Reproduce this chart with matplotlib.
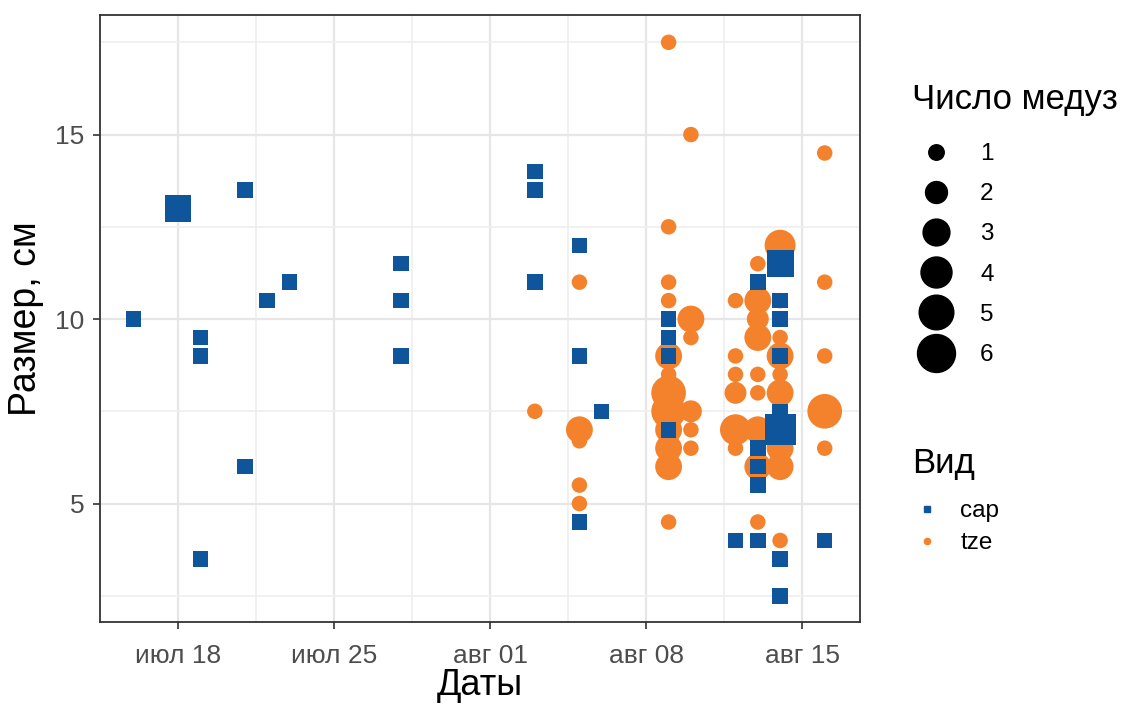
import matplotlib
matplotlib.use("Agg")
import matplotlib.pyplot as plt
from matplotlib.lines import Line2D
import numpy as np
import pandas as pd

plt.rcParams['font.family'] = ['Liberation Sans', 'DejaVu Sans']

# --- данные: cap ---
cap_date = ["2018-07-16", "2018-07-18", "2018-07-19", "2018-07-19", "2018-07-19",
            "2018-07-21", "2018-07-21", "2018-07-22", "2018-07-23",
            "2018-07-28", "2018-07-28", "2018-07-28",
            "2018-08-03", "2018-08-03", "2018-08-03",
            "2018-08-05", "2018-08-05", "2018-08-05", "2018-08-06",
            "2018-08-09", "2018-08-09", "2018-08-09", "2018-08-09",
            "2018-08-12",
            "2018-08-13", "2018-08-13", "2018-08-13", "2018-08-13", "2018-08-13",
            "2018-08-14", "2018-08-14", "2018-08-14", "2018-08-14", "2018-08-14",
            "2018-08-14", "2018-08-14", "2018-08-14",
            "2018-08-16"]
cap_len = [10, 13, 9.5, 9, 3.5,
           13.5, 6, 10.5, 11,
           11.5, 10.5, 9,
           14, 13.5, 11,
           12, 9, 4.5, 7.5,
           10, 9.5, 9, 7,
           4,
           11, 6.5, 6, 5.5, 4,
           11.5, 10.5, 10, 9, 7.5, 7, 3.5, 2.5,
           4]
cap_n = [1, 3, 1, 1, 1,
         1, 1, 1, 1,
         1, 1, 1,
         1, 1, 1,
         1, 1, 1, 1,
         1, 1, 1, 1,
         1,
         1, 1, 1, 1, 1,
         3, 1, 1, 1, 1, 4, 1, 1,
         1]

# --- данные: tze ---
tze_date = ["2018-08-03",
            "2018-08-05", "2018-08-05", "2018-08-05", "2018-08-05", "2018-08-05",
            "2018-08-09", "2018-08-09", "2018-08-09", "2018-08-09", "2018-08-09", "2018-08-09",
            "2018-08-09", "2018-08-09", "2018-08-09", "2018-08-09", "2018-08-09", "2018-08-09",
            "2018-08-10", "2018-08-10", "2018-08-10", "2018-08-10", "2018-08-10", "2018-08-10",
            "2018-08-12", "2018-08-12", "2018-08-12", "2018-08-12", "2018-08-12", "2018-08-12",
            "2018-08-13", "2018-08-13", "2018-08-13", "2018-08-13", "2018-08-13", "2018-08-13",
            "2018-08-13", "2018-08-13", "2018-08-13", "2018-08-13", "2018-08-13",
            "2018-08-14", "2018-08-14", "2018-08-14", "2018-08-14", "2018-08-14",
            "2018-08-14", "2018-08-14", "2018-08-14", "2018-08-14", "2018-08-14",
            "2018-08-16", "2018-08-16", "2018-08-16", "2018-08-16", "2018-08-16"]
tze_len = [7.5,
           11, 7, 6.7, 5.5, 5,
           17.5, 12.5, 11, 10.5, 9, 8.5,
           8, 7.5, 7, 6.5, 6, 4.5,
           15, 10, 9.5, 7.5, 7, 6.5,
           10.5, 9, 8.5, 8, 7, 6.5,
           11.5, 10.5, 10, 9.5, 8.5, 8,
           7, 6.5, 6, 5.5, 4.5,
           12, 10.5, 9.5, 9, 8.5,
           8, 7, 6.5, 6, 4,
           14.5, 11, 9, 7.5, 6.5]
tze_n = [1,
         1, 3, 1, 1, 1,
         1, 1, 1, 1, 3, 1,
         5, 5, 3, 3, 3, 1,
         1, 3, 1, 2, 1, 1,
         1, 1, 1, 2, 4, 1,
         1, 3, 2, 3, 1, 1,
         3, 1, 3, 1, 1,
         4, 1, 1, 3, 1,
         3, 1, 3, 3, 1,
         1, 1, 1, 5, 1]

legend_n = [1, 2, 3, 4, 5, 6]
species = ["cap", "tze"]
x_ticks = ["2018-07-18", "2018-07-25", "2018-08-01", "2018-08-08", "2018-08-15"]
x_ticklabels = ["июл 18", "июл 25", "авг 01", "авг 08", "авг 15"]

col_cap = "#0E559C"
col_tze = "#F4812C"


def diam(n):
    # диаметр точки в points, площадь ~ n
    return 15.5 * np.sqrt(np.asarray(n, dtype=float)) * 0.72


fig = plt.figure(figsize=(11.24, 7.06), dpi=100)
ax = fig.add_axes([100 / 1124, 1 - 622 / 706, 760 / 1124, 607 / 706])

ax.scatter(pd.to_datetime(tze_date), tze_len, s=diam(tze_n) ** 2, marker="o",
           color=col_tze, linewidths=0, zorder=3)
ax.scatter(pd.to_datetime(cap_date), cap_len, s=diam(cap_n) ** 2, marker="s",
           color=col_cap, linewidths=0, zorder=4)

ax.set_xlim(pd.Timestamp("2018-07-14 12:00"), pd.Timestamp("2018-08-17 14:00"))
ax.set_ylim(1.79, 18.24)

ticks = pd.to_datetime(x_ticks)
ax.set_xticks(ticks)
ax.set_xticklabels(x_ticklabels)
ax.set_xticks(ticks[:-1] + pd.Timedelta(days=3.5), minor=True)
ax.set_yticks([5, 10, 15])
ax.set_yticks([2.5, 7.5, 12.5, 17.5], minor=True)

ax.grid(which="major", color="#E6E6E6", lw=1.6, zorder=0)
ax.grid(which="minor", color="#EEEEEE", lw=1.1, zorder=0)
ax.set_axisbelow(True)
ax.tick_params(which="major", length=5, width=1.2, color="#333333",
               labelsize=19, labelcolor="#4D4D4D")
ax.tick_params(axis="x", which="major", pad=11)
ax.tick_params(axis="y", which="major", pad=6)
ax.tick_params(which="minor", length=0)
for sp in ax.spines.values():
    sp.set_color("#333333")
    sp.set_linewidth(1.3)

ax.set_xlabel("Даты", fontsize=26, labelpad=0)
ax.set_ylabel("Размер, см", fontsize=27, labelpad=8)

# легенда размера
fig.text(912 / 1124, 1 - 100 / 706, "Число медуз", fontsize=25, va="center", ha="left")
h_size = [Line2D([], [], ls="", marker="o", color="black", markersize=diam(n))
          for n in legend_n]
fig.legend(h_size, [str(n) for n in legend_n],
           loc="upper left", bbox_to_anchor=(912 / 1124, 1 - 143 / 706),
           frameon=False, fontsize=17.5,
           borderpad=0, borderaxespad=0, handlelength=2.0,
           handletextpad=0.8, labelspacing=0.75)

# легенда вида
fig.text(912 / 1124, 1 - 463 / 706, "Вид", fontsize=25, va="center", ha="left")
h_sp = [Line2D([], [], ls="", marker=m, color=c, markersize=4.5)
        for m, c in zip(["s", "o"], [col_cap, col_tze])]
fig.legend(h_sp, species,
           loc="upper left", bbox_to_anchor=(912 / 1124, 1 - 500 / 706),
           frameon=False, fontsize=17.5,
           borderpad=0, borderaxespad=0, handlelength=1.2,
           handletextpad=0.78, labelspacing=0.42)

fig.savefig("out.png", dpi=100)
